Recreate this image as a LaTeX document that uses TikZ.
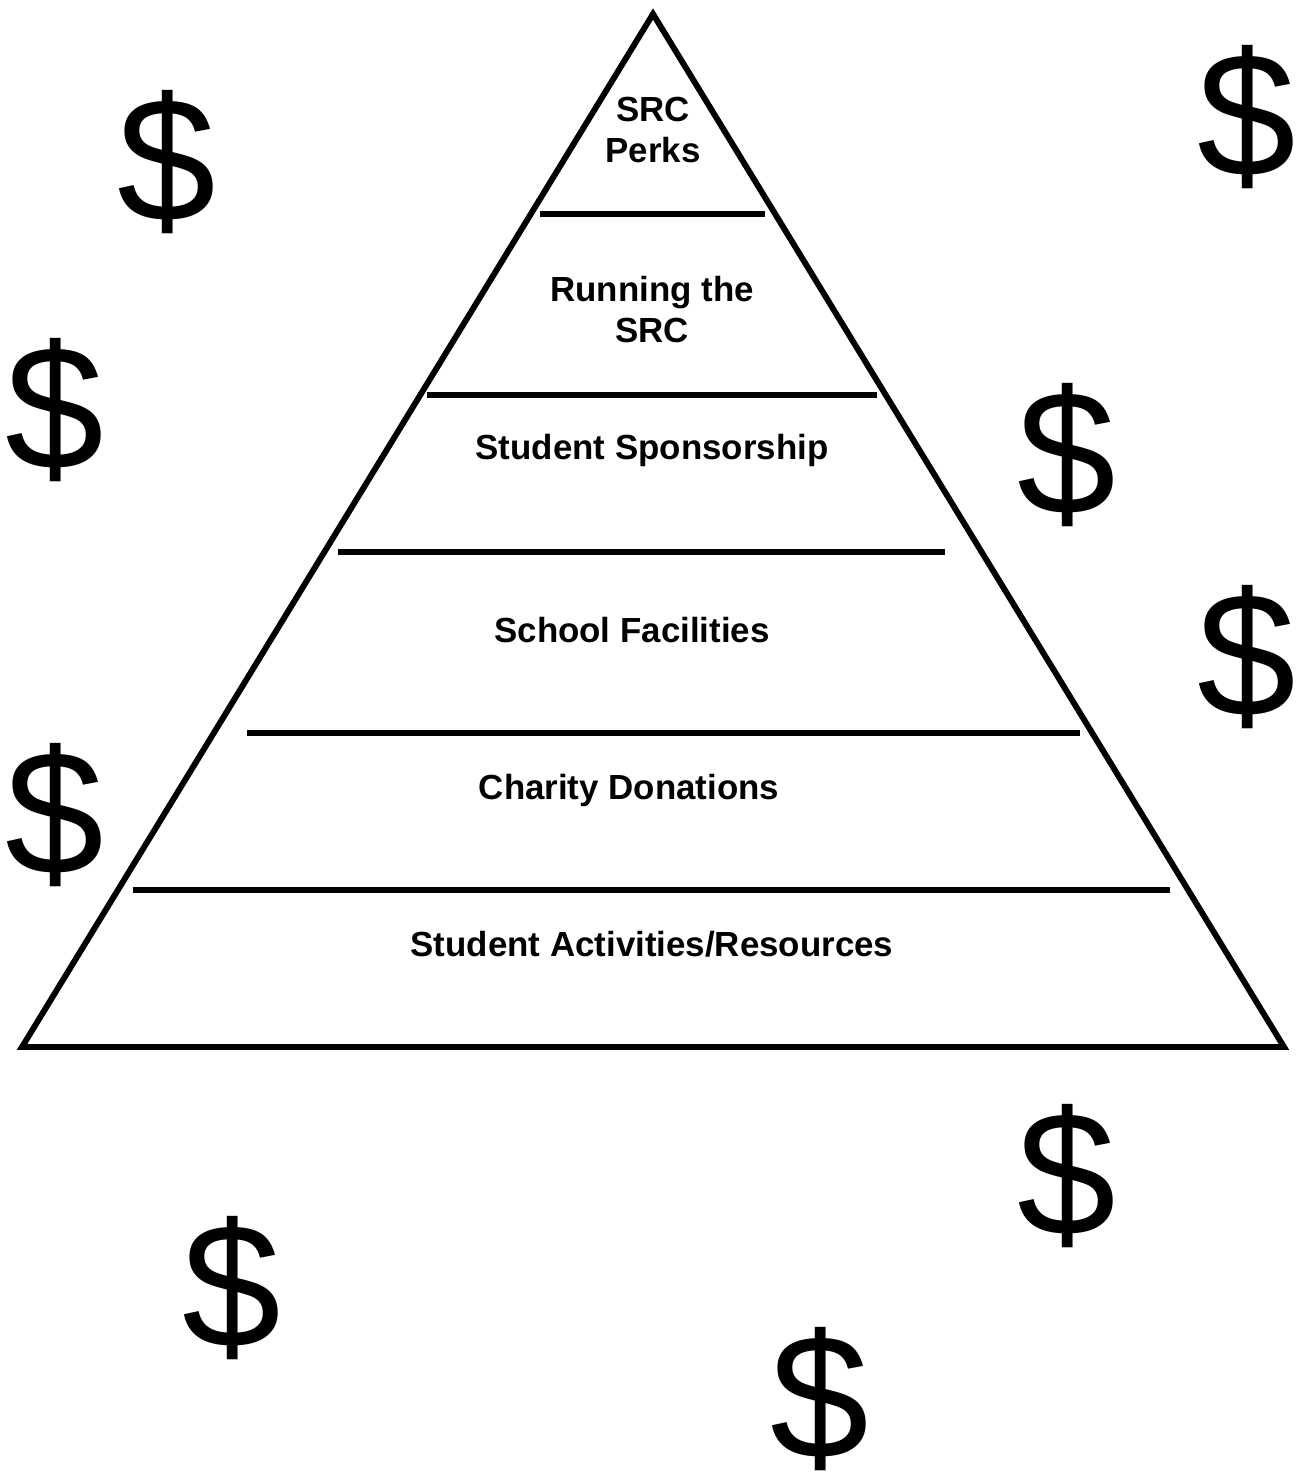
\documentclass[tikz,border=0pt]{standalone}
\usepackage{fontspec}
\setmainfont{Liberation Sans}
\begin{document}
\begin{tikzpicture}[x=0.025cm,y=-0.025cm,
    tierline/.style={line width=3.6pt},
    tiertext/.style={font=\bfseries\fontsize{24.8}{29.2}\selectfont, align=center, anchor=base, inner sep=0pt},
    dollar/.style={font=\fontsize{126}{126}\selectfont, inner sep=0pt}]
    % Rand
    \useasboundingbox (0,0) rectangle (1306,1477);

    % Pyramide
    \draw[line width=4.2pt] (653,14) -- (1284,1047) -- (22,1047) -- cycle;

    % Trennlinien
    \draw[tierline] (540,214) -- (765,214);
    \draw[tierline] (427,395) -- (877,395);
    \draw[tierline] (338,552) -- (945,552);
    \draw[tierline] (247,733) -- (1080,733);
    \draw[tierline] (133,890) -- (1170,890);

    % Stufen (base = letzte Zeile)
    \node[tiertext] (perks) at (653,163) {SRC\\Perks};
    \node[tiertext] (running) at (652,343) {Running the\\SRC};
    \node[tiertext] (sponsor) at (652,459) {Student Sponsorship};
    \node[tiertext] (facilities) at (632,642) {School Facilities};
    \node[tiertext] (charity) at (629,799) {Charity Donations};
    \node[tiertext] (activities) at (652,956) {Student Activities/Resources};

    % Dollarzeichen
    \node[dollar] (d1) at (167,162) {\$};
    \node[dollar] (d2) at (1247,117) {\$};
    \node[dollar] (d3) at (55,410) {\$};
    \node[dollar] (d4) at (1067,455) {\$};
    \node[dollar] (d5) at (1247,657) {\$};
    \node[dollar] (d6) at (55,815) {\$};
    \node[dollar] (d7) at (1067,1176) {\$};
    \node[dollar] (d8) at (232,1288) {\$};
    \node[dollar] (d9) at (820,1399) {\$};
\end{tikzpicture}
\end{document}
